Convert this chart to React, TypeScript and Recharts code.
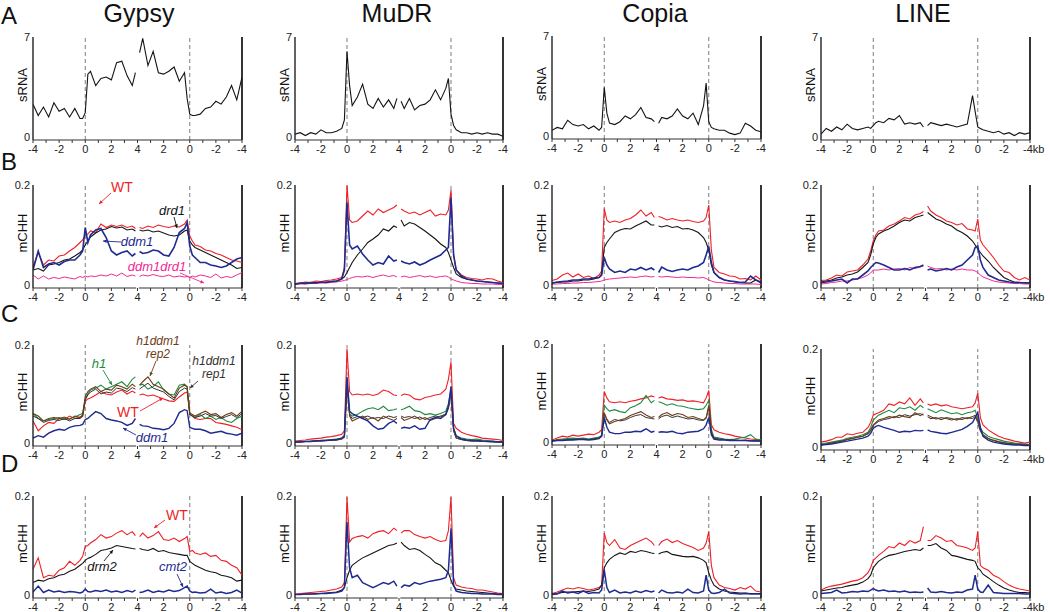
import React from 'react';
import { LineChart, Line, XAxis, YAxis, ReferenceLine } from 'recharts';

// ---------- categories (kb positions on a composite axis: upstream | 5' body | 3' body | downstream)
const POS_L = [0, 0.2, 0.4, 0.6, 0.8, 1.0, 1.2, 1.4, 1.6, 1.8, 1.9, 2.0, 2.1, 2.2, 2.4, 2.6, 2.8, 3.0, 3.2, 3.4, 3.6, 3.8, 3.92];
const POS_R = [4.08, 4.2, 4.4, 4.6, 4.8, 5.0, 5.2, 5.4, 5.6, 5.8, 5.9, 6.0, 6.1, 6.2, 6.4, 6.6, 6.8, 7.0, 7.2, 7.4, 7.6, 7.8, 8.0];
const X_TICKS = [0, 0.5, 1, 1.5, 2, 2.5, 3, 3.5, 4, 4.5, 5, 5.5, 6, 6.5, 7, 7.5, 8];
const X_LABELS = ['-4', '-2', '0', '2', '4', '2', '0', '-2', '-4'];
const COLUMN_TITLES = ['Gypsy', 'MuDR', 'Copia', 'LINE'];
const ROW_LETTERS = ['A', 'B', 'C', 'D'];

// ---------- Row A: sRNA
const gypsyA_sRNA = [2.3,1.5,2.1,1.4,2.4,1.8,2.0,1.4,2.0,1.3,1.3,1.7,4.4,4.6,3.6,4.1,4.2,4.0,5.2,5.3,4.3,3.6,4.5,
  5.9,6.9,5.0,6.0,4.5,4.4,4.6,4.9,3.9,4.5,2.7,1.6,1.5,1.5,1.6,2.0,2.1,2.5,2.3,2.8,3.6,2.6,4.2];
const mudrA_sRNA = [0.2,0.3,0.1,0.3,0.2,0.5,0.3,0.3,0.4,0.6,1.2,6.0,3.6,2.2,2.8,3.7,2.3,2.0,2.7,2.1,2.6,2.0,2.7,
  2.5,2.0,2.7,1.9,2.2,2.3,2.6,3.3,2.6,3.4,4.1,1.6,0.8,0.5,0.3,0.3,0.2,0.3,0.2,0.3,0.2,0.2,0.05];
const copiaA_sRNA = [0.4,0.6,0.5,1.1,0.8,0.7,0.8,0.5,0.7,0.4,0.6,3.4,1.6,0.9,0.8,1.0,1.4,1.2,1.5,2.0,1.3,1.2,1.0,
  0.9,1.3,1.2,1.4,1.9,1.4,1.2,1.6,0.8,2.1,3.7,1.0,0.6,0.5,0.4,0.4,0.2,0.1,0.2,0.9,0.7,0.4,0.3];
const lineA_sRNA = [0.2,0.6,0.4,0.7,0.5,0.9,0.6,0.5,0.6,0.7,0.6,0.8,1.0,1.1,1.0,1.3,1.2,1.5,0.9,1.0,0.9,1.0,0.7,
  0.8,1.0,0.9,0.8,0.9,0.8,0.7,0.8,0.9,2.9,1.8,0.7,0.6,0.5,0.4,0.3,0.4,0.2,0.3,0.1,0.3,0.2,0.3];

// ---------- Row B: mCHH in WT, drd1, ddm1, ddm1drd1
const gypsyB_WT = [.037,.065,.04,.05,.048,.058,.06,.068,.075,.085,.09,.1,.102,.108,.105,.122,.115,.12,.117,.12,.115,.118,.113,
  .115,.113,.118,.115,.12,.117,.115,.118,.116,.122,.13,.098,.088,.08,.077,.07,.068,.063,.06,.055,.05,.048,.045];
const gypsyB_drd1 = [.03,.033,.028,.04,.042,.045,.05,.052,.058,.065,.07,.08,.088,.096,.104,.11,.112,.117,.114,.116,.11,.112,.108,
  .11,.108,.11,.106,.108,.104,.1,.098,.1,.108,.11,.088,.08,.075,.07,.065,.06,.055,.05,.045,.04,.033,.035];
const gypsyB_ddm1 = [.03,.068,.035,.042,.045,.04,.047,.05,.05,.06,.068,.115,.085,.1,.11,.113,.095,.068,.06,.065,.068,.058,.063,
  .067,.063,.065,.07,.068,.06,.058,.075,.105,.113,.125,.078,.06,.055,.045,.045,.04,.038,.035,.038,.045,.052,.055];
const gypsyB_ddm1drd1 = [.02,.012,.018,.012,.015,.013,.016,.014,.012,.017,.015,.018,.016,.018,.017,.02,.018,.022,.018,.024,.017,.02,.018,
  .017,.02,.018,.021,.018,.017,.02,.016,.018,.016,.017,.015,.018,.016,.02,.018,.015,.022,.014,.017,.015,.02,.025];

const mudrB_WT = [.003,.004,.006,.005,.008,.007,.009,.01,.012,.015,.035,.2,.13,.125,.128,.138,.148,.14,.152,.145,.15,.155,.16,
  .152,.148,.143,.146,.14,.145,.15,.138,.142,.14,.15,.19,.06,.03,.02,.015,.013,.012,.01,.013,.012,.008,.005];
const mudrB_drd1 = [.002,.003,.004,.004,.005,.005,.006,.007,.008,.012,.016,.025,.035,.045,.06,.072,.085,.092,.1,.112,.108,.118,.115,
  .13,.118,.125,.122,.115,.108,.1,.092,.082,.075,.065,.05,.035,.022,.015,.012,.01,.008,.007,.006,.005,.004,.003];
const mudrB_ddm1 = [.002,.004,.003,.005,.004,.006,.005,.007,.008,.012,.03,.165,.08,.072,.078,.062,.05,.04,.045,.042,.058,.048,.05,
  .048,.045,.042,.046,.04,.044,.05,.055,.06,.07,.075,.175,.06,.03,.018,.012,.01,.008,.007,.006,.005,.004,.003];
const mudrB_ddm1drd1 = [.001,.002,.002,.003,.003,.004,.004,.005,.006,.008,.009,.011,.013,.015,.017,.016,.018,.015,.018,.02,.017,.019,.016,
  .016,.018,.015,.017,.019,.016,.018,.015,.017,.018,.016,.012,.01,.008,.005,.004,.003,.003,.002,.002,.002,.001,.001];

const copiaB_WT = [.009,.012,.02,.024,.016,.022,.015,.018,.013,.02,.028,.153,.13,.125,.128,.125,.13,.133,.14,.15,.138,.145,.135,
  .137,.135,.13,.133,.13,.128,.13,.127,.125,.128,.135,.16,.07,.035,.025,.022,.018,.017,.012,.013,.01,.018,.01];
const copiaB_drd1 = [.004,.005,.006,.006,.008,.008,.01,.01,.012,.015,.022,.075,.085,.092,.105,.11,.113,.112,.118,.123,.128,.12,.12,
  .118,.116,.119,.115,.117,.112,.113,.11,.105,.095,.085,.07,.04,.025,.015,.01,.008,.006,.005,.004,.004,.01,.004];
const copiaB_ddm1 = [.004,.006,.007,.008,.01,.01,.012,.012,.014,.015,.02,.055,.04,.032,.025,.028,.025,.032,.03,.035,.03,.034,.03,
  .025,.036,.03,.027,.03,.032,.03,.035,.038,.045,.06,.077,.045,.025,.015,.01,.008,.007,.005,.006,.018,.01,.006];
const copiaB_ddm1drd1 = [.002,.002,.003,.003,.004,.004,.005,.005,.006,.007,.008,.01,.011,.012,.013,.014,.015,.016,.015,.017,.018,.016,.017,
  .017,.016,.017,.016,.015,.016,.015,.015,.014,.015,.013,.01,.008,.006,.005,.004,.003,.003,.002,.002,.002,.002,.001];

const lineB_WT = [.009,.01,.014,.02,.018,.026,.028,.03,.04,.052,.068,.088,.1,.108,.11,.118,.122,.128,.135,.132,.14,.143,.147,
  .158,.148,.14,.135,.128,.125,.12,.123,.112,.11,.108,.132,.09,.08,.068,.055,.04,.028,.025,.015,.01,.015,.01];
const lineB_drd1 = [.006,.008,.01,.014,.016,.02,.022,.026,.035,.045,.06,.082,.095,.102,.108,.112,.118,.125,.13,.128,.135,.138,.14,
  .145,.14,.132,.128,.122,.118,.11,.105,.098,.088,.08,.072,.065,.058,.048,.035,.025,.015,.01,.006,.005,.005,.004];
const lineB_ddm1 = [.005,.006,.008,.01,.012,.004,.012,.012,.02,.028,.035,.04,.045,.044,.04,.035,.03,.03,.033,.03,.035,.037,.04,
  .03,.032,.028,.03,.033,.03,.036,.04,.05,.06,.075,.078,.05,.035,.02,.015,.01,.008,.006,.005,.005,.004,.004];
const lineB_ddm1drd1 = [.002,.003,.005,.006,.008,.008,.01,.012,.015,.02,.024,.03,.03,.03,.032,.03,.032,.033,.03,.035,.033,.036,.038,
  .038,.035,.032,.033,.03,.032,.03,.032,.03,.03,.028,.025,.02,.016,.012,.008,.006,.005,.004,.003,.003,.002,.002];

// ---------- Row C: mCHH in WT, h1, h1ddm1 rep2, h1ddm1 rep1, ddm1
const gypsyC_WT = [.045,.025,.035,.042,.04,.05,.048,.055,.05,.053,.055,.085,.09,.092,.098,.105,.1,.098,.104,.108,.1,.106,.102,
  .098,.1,.096,.098,.094,.09,.086,.085,.094,.102,.104,.06,.055,.05,.048,.05,.05,.042,.04,.038,.035,.032,.027];
const gypsyC_h1 = [.06,.05,.045,.048,.05,.052,.048,.05,.053,.058,.06,.09,.1,.108,.112,.118,.11,.115,.12,.125,.115,.13,.135,
  .118,.12,.11,.115,.125,.108,.1,.098,.118,.12,.115,.06,.055,.052,.058,.05,.055,.048,.052,.045,.042,.05,.055];
const gypsyC_rep2 = [.06,.055,.045,.05,.052,.05,.053,.048,.055,.052,.058,.095,.105,.11,.115,.105,.11,.108,.118,.115,.11,.12,.115,
  .118,.125,.135,.12,.115,.11,.1,.092,.112,.118,.115,.062,.058,.055,.06,.065,.058,.06,.052,.058,.062,.055,.065];
const gypsyC_rep1 = [.055,.05,.042,.046,.048,.046,.05,.045,.05,.05,.054,.088,.098,.104,.11,.1,.104,.102,.112,.11,.105,.113,.11,
  .11,.115,.122,.112,.108,.104,.095,.088,.105,.112,.11,.058,.055,.052,.055,.06,.055,.056,.05,.054,.058,.052,.06];
const gypsyC_ddm1 = [.01,.015,.012,.02,.025,.028,.026,.032,.035,.036,.038,.048,.05,.055,.064,.06,.05,.047,.045,.042,.036,.04,.05,
  .038,.035,.034,.03,.029,.027,.03,.04,.062,.068,.066,.032,.03,.028,.028,.025,.02,.022,.024,.02,.018,.016,.02];

const mudrC_WT = [.004,.005,.006,.008,.009,.01,.012,.013,.015,.018,.025,.193,.105,.098,.1,.098,.1,.097,.1,.108,.105,.098,.097,
  .097,.1,.098,.09,.088,.093,.095,.098,.1,.11,.13,.165,.04,.03,.022,.018,.015,.013,.01,.009,.008,.007,.005];
const mudrC_h1 = [.002,.003,.003,.004,.005,.005,.006,.007,.008,.01,.015,.13,.06,.055,.058,.065,.07,.072,.068,.075,.066,.068,.07,
  .068,.07,.075,.066,.064,.058,.06,.057,.06,.065,.08,.11,.03,.015,.01,.008,.007,.008,.006,.005,.004,.003,.003];
const mudrC_rep2 = [.002,.002,.003,.003,.004,.004,.005,.005,.006,.008,.012,.12,.055,.045,.05,.055,.048,.052,.045,.055,.05,.046,.05,
  .052,.046,.05,.055,.048,.052,.046,.05,.055,.058,.07,.105,.025,.01,.007,.005,.004,.004,.003,.003,.003,.002,.002];
const mudrC_rep1 = [.002,.002,.003,.003,.004,.004,.005,.006,.006,.008,.012,.115,.058,.05,.054,.052,.055,.05,.052,.05,.055,.052,.054,
  .055,.052,.054,.05,.053,.048,.052,.055,.053,.06,.072,.1,.025,.01,.007,.005,.004,.004,.003,.003,.002,.002,.002];
const mudrC_ddm1 = [.002,.002,.003,.003,.004,.005,.005,.006,.007,.01,.015,.135,.065,.06,.055,.05,.045,.035,.028,.03,.04,.045,.04,
  .03,.032,.03,.035,.028,.03,.048,.052,.05,.058,.075,.115,.03,.014,.008,.006,.005,.005,.004,.003,.003,.002,.002];

const copiaC_WT = [.004,.008,.012,.01,.014,.012,.014,.016,.015,.02,.025,.103,.09,.082,.08,.082,.08,.083,.085,.088,.09,.094,.092,
  .09,.092,.088,.087,.085,.086,.083,.084,.082,.08,.09,.105,.035,.025,.02,.017,.015,.012,.01,.008,.006,.005,.004];
const copiaC_h1 = [.002,.005,.006,.007,.008,.007,.008,.006,.008,.01,.014,.075,.068,.063,.066,.062,.06,.07,.074,.08,.095,.08,.085,
  .082,.08,.075,.078,.074,.073,.07,.068,.066,.068,.075,.085,.025,.01,.008,.006,.005,.006,.008,.01,.015,.006,.004];
const copiaC_rep2 = [.002,.004,.004,.005,.005,.006,.006,.005,.007,.008,.012,.06,.045,.037,.042,.045,.048,.054,.058,.062,.055,.05,.052,
  .05,.056,.06,.054,.058,.056,.05,.052,.048,.045,.05,.075,.02,.008,.006,.005,.004,.004,.003,.004,.003,.003,.002];
const copiaC_rep1 = [.002,.003,.004,.004,.005,.005,.006,.005,.006,.008,.012,.058,.047,.04,.046,.043,.045,.05,.054,.056,.05,.048,.047,
  .047,.052,.055,.05,.053,.05,.047,.048,.045,.044,.048,.07,.018,.008,.006,.005,.004,.004,.003,.003,.003,.002,.002];
const copiaC_ddm1 = [.002,.003,.003,.004,.004,.005,.005,.004,.005,.007,.012,.05,.03,.02,.017,.017,.02,.02,.022,.021,.027,.02,.022,
  .02,.021,.02,.022,.018,.017,.02,.021,.022,.027,.035,.05,.015,.006,.004,.004,.003,.003,.003,.003,.002,.002,.002];

const lineC_WT = [.01,.012,.015,.02,.02,.027,.025,.028,.03,.04,.05,.065,.068,.07,.075,.088,.085,.092,.088,.1,.085,.098,.09,
  .088,.085,.088,.084,.086,.082,.08,.078,.08,.082,.09,.11,.06,.045,.035,.028,.022,.018,.015,.012,.01,.008,.01];
const lineC_h1 = [.006,.008,.01,.012,.014,.018,.02,.022,.025,.03,.04,.055,.06,.065,.07,.075,.07,.08,.078,.082,.075,.085,.08,
  .078,.075,.07,.076,.072,.068,.07,.066,.07,.072,.075,.06,.04,.03,.022,.018,.015,.012,.01,.008,.007,.006,.005];
const lineC_rep2 = [.004,.006,.008,.01,.012,.016,.018,.02,.022,.028,.035,.045,.05,.055,.058,.062,.06,.065,.062,.06,.07,.064,.068,
  .062,.058,.06,.056,.06,.058,.055,.06,.058,.062,.065,.055,.035,.025,.018,.014,.011,.009,.007,.006,.005,.005,.004];
const lineC_rep1 = [.004,.006,.008,.01,.012,.015,.017,.02,.022,.027,.033,.043,.048,.052,.056,.058,.062,.06,.066,.063,.066,.068,.065,
  .065,.062,.057,.06,.058,.055,.058,.056,.06,.058,.062,.05,.032,.024,.017,.013,.01,.008,.007,.006,.005,.004,.004];
const lineC_ddm1 = [.004,.005,.006,.008,.01,.012,.014,.016,.018,.022,.028,.038,.042,.044,.04,.037,.034,.03,.032,.031,.034,.033,.034,
  .035,.032,.03,.028,.027,.03,.033,.036,.042,.05,.06,.07,.04,.022,.014,.01,.008,.006,.005,.004,.004,.003,.003];

// ---------- Row D: mCHH in WT, drm2, cmt2
const gypsyD_WT = [.052,.075,.035,.04,.038,.05,.055,.068,.06,.07,.078,.098,.1,.105,.112,.122,.115,.118,.125,.13,.122,.128,.12,
  .118,.125,.115,.12,.128,.112,.11,.115,.108,.114,.118,.088,.09,.085,.082,.085,.078,.08,.07,.068,.06,.055,.04];
const gypsyD_drm2 = [.025,.03,.028,.033,.035,.04,.042,.048,.052,.06,.064,.07,.074,.076,.082,.09,.092,.095,.1,.098,.096,.094,.093,
  .094,.092,.09,.094,.088,.09,.086,.084,.082,.08,.08,.068,.064,.06,.055,.05,.047,.045,.04,.038,.035,.028,.03];
const gypsyD_cmt2 = [.006,.018,.005,.01,.006,.008,.005,.007,.006,.004,.006,.012,.007,.006,.009,.007,.01,.006,.008,.005,.009,.006,.01,
  .005,.006,.01,.005,.008,.006,.01,.007,.009,.015,.018,.008,.005,.006,.004,.005,.012,.004,.006,.003,.005,.01,.004];

const mudrD_WT = [.002,.003,.004,.005,.006,.007,.008,.01,.012,.016,.025,.198,.107,.114,.118,.12,.115,.124,.128,.13,.124,.135,.13,
  .125,.13,.13,.122,.118,.115,.118,.112,.108,.11,.13,.198,.035,.02,.016,.014,.013,.01,.01,.008,.006,.004,.003];
const mudrD_drm2 = [.001,.001,.002,.002,.003,.003,.004,.005,.006,.01,.015,.035,.05,.06,.068,.075,.08,.085,.09,.095,.1,.102,.105,
  .107,.1,.092,.094,.09,.082,.075,.065,.06,.05,.045,.03,.018,.012,.01,.008,.007,.006,.005,.004,.003,.002,.002];
const mudrD_cmt2 = [.001,.001,.002,.002,.002,.003,.003,.004,.005,.008,.015,.148,.055,.035,.04,.025,.02,.015,.02,.025,.022,.028,.018,
  .015,.02,.018,.025,.022,.025,.028,.03,.032,.035,.05,.135,.02,.008,.005,.004,.003,.003,.002,.002,.002,.001,.001];

const copiaD_WT = [.003,.006,.01,.014,.012,.015,.013,.01,.012,.015,.02,.125,.106,.1,.112,.095,.092,.1,.105,.11,.115,.108,.1,
  .1,.108,.113,.106,.11,.104,.1,.096,.09,.095,.105,.128,.06,.035,.02,.015,.013,.01,.015,.012,.018,.008,.006];
const copiaD_drm2 = [.002,.003,.005,.006,.006,.007,.008,.007,.009,.012,.02,.055,.065,.072,.08,.085,.082,.088,.086,.09,.088,.085,.084,
  .083,.086,.088,.082,.08,.078,.077,.078,.075,.07,.065,.045,.03,.02,.012,.008,.006,.005,.004,.004,.003,.003,.003];
const copiaD_cmt2 = [.001,.002,.008,.004,.006,.003,.008,.003,.005,.004,.01,.051,.015,.005,.01,.004,.006,.004,.008,.005,.009,.006,.008,
  .004,.01,.005,.004,.006,.004,.012,.005,.004,.008,.04,.01,.004,.003,.005,.012,.004,.003,.002,.003,.002,.002,.002];

const lineD_WT = [.01,.015,.018,.02,.022,.025,.028,.03,.035,.045,.055,.07,.075,.08,.088,.098,.095,.105,.1,.11,.105,.11,.138,
  .11,.11,.12,.115,.108,.11,.1,.098,.095,.09,.095,.128,.06,.055,.05,.04,.035,.027,.02,.015,.012,.01,.008];
const lineD_drm2 = [.008,.01,.012,.014,.015,.018,.02,.022,.026,.033,.04,.055,.062,.068,.075,.08,.082,.085,.088,.09,.092,.09,.095,
  .1,.1,.104,.095,.09,.08,.078,.075,.072,.07,.068,.055,.05,.042,.035,.027,.02,.014,.01,.007,.005,.005,.004];
const lineD_cmt2 = [.003,.004,.005,.01,.004,.005,.007,.006,.008,.007,.01,.013,.01,.008,.01,.007,.008,.006,.008,.005,.006,.005,.006,
  .014,.006,.005,.007,.005,.004,.006,.005,.01,.012,.04,.012,.006,.005,.02,.005,.004,.003,.003,.003,.003,.002,.002];

// ---------- styling
const FONT = '"Liberation Sans", Arial, Helvetica, sans-serif';
const RED = '#ee1f26';
const BLACK = '#141414';
const BLUE = '#1f2b91';
const MAGENTA = '#f02a93';
const GREEN = '#1b8a3d';
const BROWN = '#6e3c15';
const DARK = '#333333';

type Series = { name: string; values: number[]; color: string; width: number };

const COLS = [
  { left: 33, right: 242 },
  { left: 295, right: 503 },
  { left: 552, right: 761 },
  { left: 821, right: 1030 },
];
const ROWS = [
  { top: 37, zero: 137, max: 7, label: 'sRNA' },
  { top: 185, zero: 285, max: 0.2, label: 'mCHH' },
  { top: 345, zero: 443, max: 0.2, label: 'mCHH' },
  { top: 496, zero: 595, max: 0.2, label: 'mCHH' },
];

const s = (name: string, values: number[], color: string, width = 1.1): Series => ({ name, values, color, width });

const PANELS: { row: number; col: number; shift: number; series: Series[] }[] = [
  { row: 0, col: 0, shift: 0, series: [s('sRNA', gypsyA_sRNA, BLACK)] },
  { row: 0, col: 1, shift: 0, series: [s('sRNA', mudrA_sRNA, BLACK)] },
  { row: 0, col: 2, shift: -1, series: [s('sRNA', copiaA_sRNA, BLACK)] },
  { row: 0, col: 3, shift: 0, series: [s('sRNA', lineA_sRNA, BLACK)] },
  ...[
    [gypsyB_WT, gypsyB_drd1, gypsyB_ddm1, gypsyB_ddm1drd1],
    [mudrB_WT, mudrB_drd1, mudrB_ddm1, mudrB_ddm1drd1],
    [copiaB_WT, copiaB_drd1, copiaB_ddm1, copiaB_ddm1drd1],
    [lineB_WT, lineB_drd1, lineB_ddm1, lineB_ddm1drd1],
  ].map((d, col) => ({
    row: 1, col, shift: 0,
    series: [s('ddm1drd1', d[3], MAGENTA, 1), s('WT', d[0], RED), s('drd1', d[1], BLACK), s('ddm1', d[2], BLUE, 1.6)],
  })),
  ...[
    [gypsyC_WT, gypsyC_h1, gypsyC_rep2, gypsyC_rep1, gypsyC_ddm1],
    [mudrC_WT, mudrC_h1, mudrC_rep2, mudrC_rep1, mudrC_ddm1],
    [copiaC_WT, copiaC_h1, copiaC_rep2, copiaC_rep1, copiaC_ddm1],
    [lineC_WT, lineC_h1, lineC_rep2, lineC_rep1, lineC_ddm1],
  ].map((d, col) => ({
    row: 2, col, shift: col === 3 ? 4 : col === 2 ? -1 : 0,
    series: [s('WT', d[0], RED), s('h1', d[1], GREEN), s('rep1', d[3], DARK, 1), s('rep2', d[2], BROWN), s('ddm1', d[4], BLUE, 1.4)],
  })),
  ...[
    [gypsyD_WT, gypsyD_drm2, gypsyD_cmt2],
    [mudrD_WT, mudrD_drm2, mudrD_cmt2],
    [copiaD_WT, copiaD_drm2, copiaD_cmt2],
    [lineD_WT, lineD_drm2, lineD_cmt2],
  ].map((d, col) => ({
    row: 3, col, shift: 0,
    series: [s('WT', d[0], RED), s('drm2', d[1], BLACK), s('cmt2', d[2], BLUE, 1.5)],
  })),
];

function buildRows(series: Series[]) {
  const rows: any[] = [];
  POS_L.forEach((x, i) => {
    const r: any = { x };
    series.forEach((se) => (r[se.name] = se.values[i]));
    rows.push(r);
  });
  const gap: any = { x: 4 };
  series.forEach((se) => (gap[se.name] = null));
  rows.push(gap);
  POS_R.forEach((x, i) => {
    const r: any = { x };
    series.forEach((se) => (r[se.name] = se.values[POS_L.length + i]));
    rows.push(r);
  });
  return rows;
}

const makeXTick = (kb: boolean) => (props: any) => {
  const { x, y, payload } = props;
  const v = payload.value;
  const idx = Math.round(v);
  if (Math.abs(v - idx) > 1e-6) return <g />;
  const label = X_LABELS[idx];
  if (kb && idx === 8) {
    return (
      <text x={x - 7} y={y} dy="0.71em" textAnchor="start" fontSize={11} fill="#222" fontFamily={FONT}>
        {label + 'kb'}
      </text>
    );
  }
  return (
    <text x={x} y={y} dy="0.71em" textAnchor="middle" fontSize={11} fill="#222" fontFamily={FONT}>
      {label}
    </text>
  );
};

const LEFT_PAD = 40;
const RIGHT_PAD = 26;
const TOP_PAD = 8;
const X_H = 22;

function Panel({ row, col, shift, series }: { row: number; col: number; shift: number; series: Series[] }) {
  const c = COLS[col];
  const r = ROWS[row];
  const top = r.top + shift;
  const zero = r.zero + shift;
  const pxPerUnit = (zero - top) / r.max;
  const min = -3 / pxPerUnit;
  const plotH = zero + 3 - top;
  const W = c.right - c.left + LEFT_PAD + RIGHT_PAD;
  const H = plotH + TOP_PAD + X_H;
  const data = buildRows(series);
  const kb = col === 3;
  const broken = row > 0; // methylation rows draw the axis broken at the body midpoint
  return (
    <div style={{ position: 'absolute', left: c.left - LEFT_PAD, top: top - TOP_PAD }}>
      <LineChart width={W} height={H} data={data} margin={{ top: TOP_PAD, right: RIGHT_PAD, bottom: 0, left: 0 }}>
        <XAxis
          dataKey="x"
          type="number"
          domain={[0, 8]}
          ticks={X_TICKS}
          interval={0}
          height={X_H}
          tickSize={3}
          tickMargin={2}
          tickLine={{ stroke: '#333' }}
          axisLine={broken ? false : { stroke: '#333', strokeWidth: 1.2 }}
          tick={makeXTick(kb)}
          allowDataOverflow
        />
        <YAxis
          type="number"
          domain={[min, r.max]}
          ticks={[0, r.max]}
          width={LEFT_PAD}
          tickLine={false}
          tickSize={2}
          tickMargin={1}
          axisLine={{ stroke: '#222', strokeWidth: 1.4 }}
          tick={{ fontSize: 11, fill: '#222', fontFamily: FONT }}
          tickFormatter={(v: number) => (v === 0 ? '0' : String(r.max))}
          allowDataOverflow
        />
        {broken && (
          <ReferenceLine segment={[{ x: 0, y: min }, { x: 3.95, y: min }]} stroke="#333" strokeWidth={1.2} ifOverflow="visible" />
        )}
        {broken && (
          <ReferenceLine segment={[{ x: 4.05, y: min }, { x: 8, y: min }]} stroke="#333" strokeWidth={1.2} ifOverflow="visible" />
        )}
        <ReferenceLine x={2} stroke="#7d7d7d" strokeDasharray="4 3" strokeWidth={1} />
        <ReferenceLine x={6} stroke="#7d7d7d" strokeDasharray="4 3" strokeWidth={1} />
        <ReferenceLine x={8} stroke="#111" strokeWidth={1.7} />
        {series.map((se) => (
          <Line
            key={se.name}
            type="linear"
            dataKey={se.name}
            stroke={se.color}
            strokeWidth={se.width}
            dot={false}
            activeDot={false}
            connectNulls={false}
            isAnimationActive={false}
          />
        ))}
      </LineChart>
    </div>
  );
}

const HEADER_X = [139, 397, 655, 923];
const LETTER_BASE = [24, 170, 322, 472];

type Note = { lines: string[]; x: number; y: number; color: string; italic: boolean; size: number; gap: number; from: [number, number]; to: [number, number] };
const NOTES: Note[] = [
  { lines: ['WT'], x: 122, y: 192, color: RED, italic: false, size: 14, gap: 0, from: [111, 193], to: [99, 204] },
  { lines: ['drd1'], x: 172, y: 215, color: BLACK, italic: true, size: 13, gap: 0, from: [174, 217], to: [177, 228] },
  { lines: ['ddm1'], x: 137, y: 246, color: BLUE, italic: true, size: 13, gap: 0, from: [121, 242], to: [103, 241] },
  { lines: ['ddm1drd1'], x: 157, y: 271, color: MAGENTA, italic: true, size: 13, gap: 0, from: [180, 273], to: [204, 283] },
  { lines: ['h1'], x: 99, y: 368, color: GREEN, italic: true, size: 13, gap: 0, from: [103, 370], to: [112, 385] },
  { lines: ['h1ddm1', 'rep2'], x: 158, y: 345, color: BROWN, italic: true, size: 12, gap: 13, from: [156, 361], to: [150, 376] },
  { lines: ['h1ddm1', 'rep1'], x: 214, y: 365, color: DARK, italic: true, size: 12, gap: 13, from: [198, 381], to: [190, 388] },
  { lines: ['WT'], x: 128, y: 417, color: RED, italic: false, size: 14, gap: 0, from: [140, 411], to: [163, 398] },
  { lines: ['ddm1'], x: 152, y: 442, color: BLUE, italic: true, size: 13, gap: 0, from: [136, 435], to: [123, 428] },
  { lines: ['WT'], x: 177, y: 520, color: RED, italic: false, size: 14, gap: 0, from: [165, 520], to: [154, 528] },
  { lines: ['drm2'], x: 102, y: 571, color: BLACK, italic: true, size: 13, gap: 0, from: [104, 561], to: [113, 550] },
  { lines: ['cmt2'], x: 173, y: 571, color: BLUE, italic: true, size: 13, gap: 0, from: [177, 574], to: [183, 587] },
];

function Overlay() {
  return (
    <svg width={1050} height={612} style={{ position: 'absolute', left: 0, top: 0, pointerEvents: 'none' }} fontFamily={FONT}>
      {COLUMN_TITLES.map((t, i) => (
        <text key={t} x={HEADER_X[i]} y={22} fontSize={25} textAnchor="middle" fill="#111">{t}</text>
      ))}
      {ROW_LETTERS.map((t, i) => (
        <text key={t} x={1} y={LETTER_BASE[i]} fontSize={24} fill="#111">{t}</text>
      ))}
      {PANELS.map((p) => {
        const r = ROWS[p.row];
        const cx = COLS[p.col].left - 6;
        const cy = (r.top + r.zero) / 2 + p.shift - 2;
        return (
          <text key={`yl${p.row}-${p.col}`} x={cx} y={cy} fontSize={13} textAnchor="middle" fill="#111"
            transform={`rotate(-90 ${cx} ${cy})`}>{r.label}</text>
        );
      })}
      {NOTES.map((n, i) => {
        const [x1, y1] = n.from;
        const [x2, y2] = n.to;
        const ang = Math.atan2(y2 - y1, x2 - x1);
        const ah = 4;
        const p1 = [x2 - ah * Math.cos(ang - 0.45), y2 - ah * Math.sin(ang - 0.45)];
        const p2 = [x2 - ah * Math.cos(ang + 0.45), y2 - ah * Math.sin(ang + 0.45)];
        return (
          <g key={`n${i}`}>
            {n.lines.map((ln, j) => (
              <text key={j} x={n.x} y={n.y + j * n.gap} fontSize={n.size} textAnchor="middle" fill={n.color}
                fontStyle={n.italic ? 'italic' : 'normal'}>{ln}</text>
            ))}
            <line x1={x1} y1={y1} x2={x2} y2={y2} stroke={n.color} strokeWidth={0.9} />
            <polygon points={`${x2},${y2} ${p1[0]},${p1[1]} ${p2[0]},${p2[1]}`} fill={n.color} />
          </g>
        );
      })}
    </svg>
  );
}

export default function App() {
  return (
    <div style={{ position: 'absolute', left: 0, top: 0, width: 1050, height: 612, overflow: 'hidden', background: '#fff', fontFamily: FONT }}>
      {PANELS.map((p) => (
        <Panel key={`p${p.row}-${p.col}`} row={p.row} col={p.col} shift={p.shift} series={p.series} />
      ))}
      <Overlay />
    </div>
  );
}
